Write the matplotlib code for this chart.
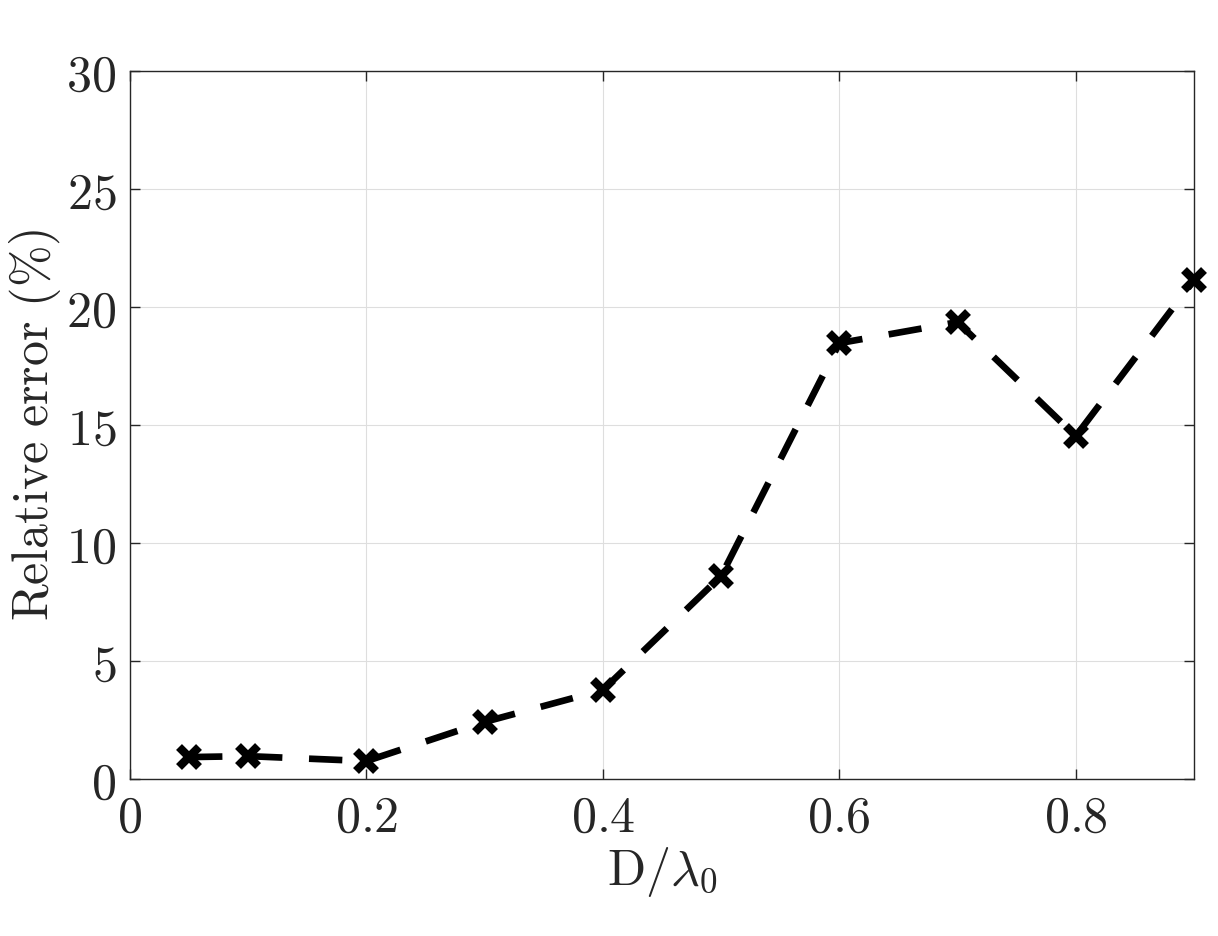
import matplotlib
matplotlib.use("Agg")
import matplotlib.pyplot as plt
import matplotlib.ticker as ticker
import numpy as np

## Data
d_lambda = np.array([0.05, 0.1, 0.2, 0.3, 0.4, 0.5, 0.6, 0.7, 0.8, 0.9])
rel_error = np.array([0.93, 0.97, 0.76, 2.42, 3.77, 8.6, 18.47, 19.36, 14.53, 21.14])

x_ticks = [0, 0.2, 0.4, 0.6, 0.8]
y_ticks = [0, 5, 10, 15, 20, 25, 30]

text_col = "#262626"
plt.rcParams['mathtext.fontset'] = 'cm'
plt.rcParams['font.family'] = 'serif'

fig = plt.figure(figsize=(12.18, 9.36), dpi=100)
ax = fig.add_axes([0.1067, 0.1677, 0.8736, 0.7564])

ax.plot(d_lambda, rel_error, color='black', linewidth=4.8, dashes=(5, 4),
        marker='x', markersize=14, markeredgewidth=6, clip_on=False, zorder=5)

ax.set_xlim(0, 0.9)
ax.set_ylim(0, 30)
ax.set_xticks(x_ticks)
ax.set_yticks(y_ticks)
ax.xaxis.set_major_formatter(ticker.FuncFormatter(lambda v, p: '$%g$' % v))
ax.yaxis.set_major_formatter(ticker.FuncFormatter(lambda v, p: '$%g$' % v))
ax.tick_params(direction='in', length=7, width=1, colors=text_col,
               labelsize=36, top=True, right=True, pad=10)
ax.grid(True, color='#dedede', linewidth=0.8)
ax.set_axisbelow(True)
for s in ax.spines.values():
    s.set_color(text_col)
    s.set_linewidth(1)

ax.set_xlabel(r'$\mathrm{D}/\lambda_{\mathrm{0}}$', fontsize=36, color=text_col, labelpad=2)
ax.set_ylabel(r'$\mathrm{Relative\ error\ (\%)}$', fontsize=36, color=text_col, labelpad=2)

fig.savefig("out.png", dpi=100)
